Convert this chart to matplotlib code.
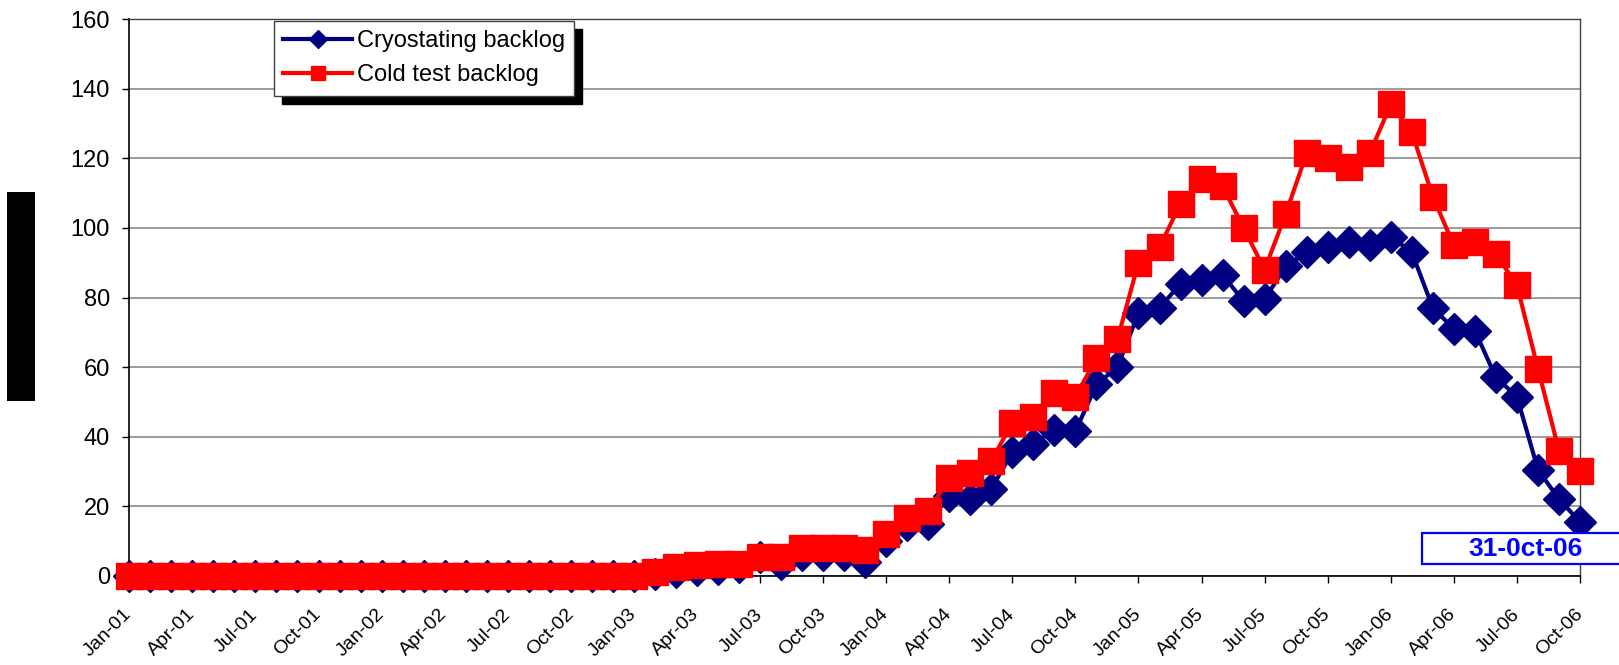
import matplotlib.pyplot as plt
from matplotlib.patches import Rectangle

# tick labels, one every 3 months (Jan-01 .. Oct-06)
TICK_LABELS = [
    "Jan-01", "Apr-01", "Jul-01", "Oct-01",
    "Jan-02", "Apr-02", "Jul-02", "Oct-02",
    "Jan-03", "Apr-03", "Jul-03", "Oct-03",
    "Jan-04", "Apr-04", "Jul-04", "Oct-04",
    "Jan-05", "Apr-05", "Jul-05", "Oct-05",
    "Jan-06", "Apr-06", "Jul-06", "Oct-06",
]

# monthly backlog, Jan 01 .. Oct 06 (70 months)
CRYO_BACKLOG = [
    0, 0, 0, 0, 0, 0, 0, 0, 0, 0, 0, 0,
    0, 0, 0, 0, 0, 0, 0, 0, 0, 0, 0, 0,
    0, 0.5, 1, 1.5, 2, 2.5, 5.5, 3.5, 6, 6, 6, 4,
    10, 14.5, 15, 23, 22, 25, 35.5, 38, 42, 41.5, 55, 60,
    75.5, 77, 84, 85, 86.5, 79, 79.5, 89, 93, 94.5, 96, 95,
    97.5, 93, 77, 71, 70.5, 57, 51.5, 30.5, 22, 15.5,
]
COLD_BACKLOG = [
    0, 0, 0, 0, 0, 0, 0, 0, 0, 0, 0, 0,
    0, 0, 0, 0, 0, 0, 0, 0, 0, 0, 0, 0,
    0, 1, 2.5, 3, 3.5, 3.5, 5.5, 5.5, 8, 8, 8, 7.5,
    12, 16.5, 18.5, 28, 29.5, 33, 44, 45.5, 52.5, 51.5, 62.5, 68,
    90, 94.5, 107, 114, 112, 100, 88, 104, 121.5, 120, 117.5, 121.5,
    135.5, 127.5, 109, 95, 96, 92.5, 83.5, 59.5, 36, 30,
]

W, H = 1619, 665

fig = plt.figure(figsize=(W / 100, H / 100), dpi=100)
ax = fig.add_axes([129.3 / W, 1 - 575.7 / H, (1580 - 129.3) / W, (575.7 - 19.3) / H])

x = list(range(len(CRYO_BACKLOG)))
ax.plot(x, CRYO_BACKLOG, color="#000080", lw=3, marker="D", ms=16,
        clip_on=False, zorder=3, label="Cryostating backlog")
ax.plot(x, COLD_BACKLOG, color="#FF0000", lw=3, marker="s", ms=18.5,
        clip_on=False, zorder=4, label="Cold test backlog")

ax.set_xlim(0, len(x) - 1)
ax.set_ylim(0, 160)
ax.set_yticks(range(0, 161, 20))
ax.yaxis.grid(True, color="#808080", lw=1.1)
ax.set_axisbelow(True)

ax.set_xticks(range(0, len(x), 3))
ax.set_xticklabels(TICK_LABELS, rotation=45, ha="right", va="center",
                   rotation_mode="anchor", fontsize=14)
ax.tick_params(axis="x", length=5, width=1, pad=21)
ax.tick_params(axis="y", length=5, width=1, pad=9, labelsize=17)
for lab in ax.get_yticklabels():
    lab.set_family(["Liberation Sans Narrow", "Liberation Sans", "DejaVu Sans"])
for lab in ax.get_xticklabels():
    lab.set_family(["Liberation Sans", "DejaVu Sans"])

for side in ("left", "bottom"):
    ax.spines[side].set_color("black")
    ax.spines[side].set_linewidth(1.2)
for side in ("top", "right"):
    ax.spines[side].set_color("#404040")
    ax.spines[side].set_linewidth(1.0)

leg = ax.legend(loc="upper left", bbox_to_anchor=((274 - 129.3) / 1450.7, (575.7 - 21) / 556.4),
                prop={"family": ["Liberation Sans", "DejaVu Sans"], "size": 17},
                frameon=True, fancybox=False, edgecolor="#404040", framealpha=1,
                borderaxespad=0, handlelength=2.9, handletextpad=0.2,
                borderpad=0.4, labelspacing=0.5, markerscale=0.55,
                shadow={"ox": 5.8, "oy": -5.8, "facecolor": "black",
                        "edgecolor": "black", "alpha": 1})
leg.get_frame().set_linewidth(1.0)

# black block on the left (hidden axis title)
fig.add_artist(Rectangle((7 / W, 1 - 401 / H), 28 / W, 209 / H,
                         transform=fig.transFigure, fc="black", ec="none", zorder=5))

# date stamp box at bottom right
fig.add_artist(Rectangle((1422 / W, 1 - 564 / H), (W - 1422) / W + 0.01, 31 / H,
                         transform=fig.transFigure, fc="white", ec="#0000FF",
                         lw=1.6, zorder=5))
fig.text(1526 / W, 1 - 549 / H, "31-0ct-06", color="#0000FF", fontweight="bold",
         fontsize=19, ha="center", va="center", zorder=6,
         family=["Liberation Sans", "DejaVu Sans"])

fig.savefig("out.png", dpi=100)
